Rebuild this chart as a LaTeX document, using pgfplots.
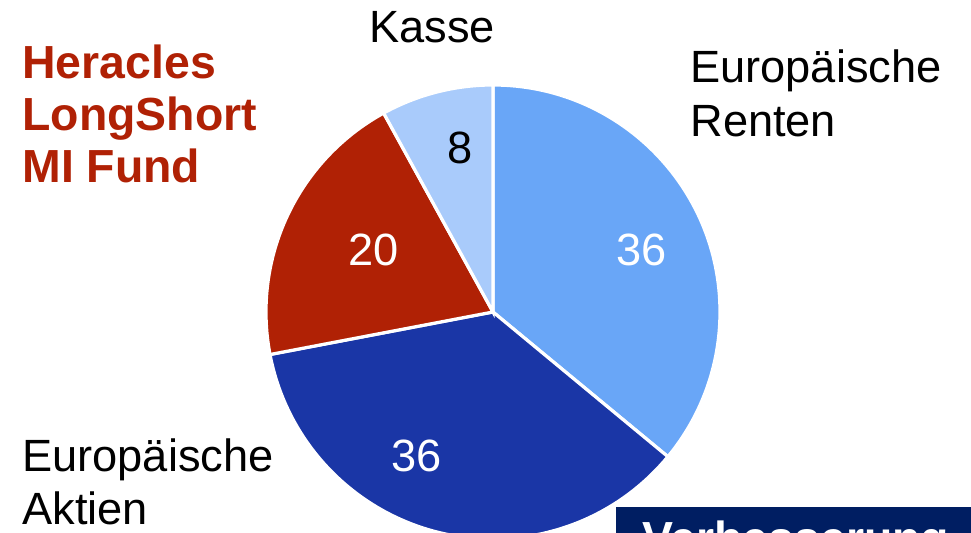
\documentclass[border=0pt]{standalone}
\usepackage{pgfplots}
\pgfplotsset{compat=1.18}
\usepackage{pgfplotstable}
\usepackage{fontspec}
\setmainfont{Liberation Sans}

\definecolor{renten}{HTML}{69A6F7}
\definecolor{aktien}{HTML}{1A36A6}
\definecolor{heracles}{HTML}{B02105}
\definecolor{kasse}{HTML}{A9CBFB}
\definecolor{navy}{HTML}{001E62}

% shares in percent, clockwise from the top
\pgfplotstableread{
label    value
Renten   36
Aktien   36
Heracles 20
Kasse    8
}\piedata

\pgfplotstablegetelem{0}{value}\of\piedata \let\va\pgfplotsretval
\pgfplotstablegetelem{1}{value}\of\piedata \let\vb\pgfplotsretval
\pgfplotstablegetelem{2}{value}\of\piedata \let\vc\pgfplotsretval
\pgfplotstablegetelem{3}{value}\of\piedata \let\vd\pgfplotsretval
\pgfmathsetmacro{\aO}{90}
\pgfmathsetmacro{\aA}{\aO-3.6*\va}
\pgfmathsetmacro{\aB}{\aA-3.6*\vb}
\pgfmathsetmacro{\aC}{\aB-3.6*\vc}
\pgfmathsetmacro{\aD}{\aC-3.6*\vd}

\newcommand{\lbl}{\fontsize{22.6}{26}\selectfont}
\newcommand{\ttl}{\fontsize{23.2}{26}\selectfont\bfseries}
\def\R{113.5pt}

\begin{document}
\begin{tikzpicture}
\begin{axis}[
    hide axis, scale only axis,
    width=485.5pt, height=266.5pt,
    xmin=0, xmax=971, ymin=0, ymax=533,
    clip=true
]
\coordinate (ll) at (axis cs:0,0);
\coordinate (ur) at (axis cs:971,533);

% wedges
\filldraw[fill=renten, draw=white, line width=1.6pt]
  (axis cs:493,221) -- ++(\aO:\R) arc[start angle=\aO, end angle=\aA, radius=\R] -- cycle;
\filldraw[fill=aktien, draw=white, line width=1.6pt]
  (axis cs:493,221) -- ++(\aA:\R) arc[start angle=\aA, end angle=\aB, radius=\R] -- cycle;
\filldraw[fill=heracles, draw=white, line width=1.6pt]
  (axis cs:493,221) -- ++(\aB:\R) arc[start angle=\aB, end angle=\aC, radius=\R] -- cycle;
\filldraw[fill=kasse, draw=white, line width=1.6pt]
  (axis cs:493,221) -- ++(\aC:\R) arc[start angle=\aC, end angle=\aD, radius=\R] -- cycle;

% values
\node[anchor=base, inner sep=0, text=white, font=\lbl] at (axis cs:642,267) {36};
\node[anchor=base, inner sep=0, text=white, font=\lbl] at (axis cs:417,61) {36};
\node[anchor=base, inner sep=0, text=white, font=\lbl] at (axis cs:374,267) {20};
\node[anchor=base, inner sep=0, text=black, font=\lbl] at (axis cs:460,369) {8};

% category labels
\node[anchor=base, inner sep=0, font=\lbl] at (axis cs:432,490) {Kasse};
\node[anchor=base west, inner sep=0, font=\lbl] at (axis cs:690,450) {Europäische};
\node[anchor=base west, inner sep=0, font=\lbl] at (axis cs:690,396) {Renten};
\node[anchor=base west, inner sep=0, font=\lbl] at (axis cs:22,61) {Europäische};
\node[anchor=base west, inner sep=0, font=\lbl] at (axis cs:22,8) {Aktien};

% title
\node[anchor=base west, inner sep=0, text=heracles, font=\ttl] at (axis cs:22,454) {Heracles};
\node[anchor=base west, inner sep=0, text=heracles, font=\ttl] at (axis cs:22,402) {LongShort};
\node[anchor=base west, inner sep=0, text=heracles, font=\ttl] at (axis cs:22,350) {MI Fund};

% cut-off box at the bottom right
\fill[navy] (axis cs:616,-40) rectangle (axis cs:980,26);
\node[anchor=base west, inner sep=0, text=white, font=\ttl] at (axis cs:642,-22) {Verbesserung};
\end{axis}
\pgfresetboundingbox
\useasboundingbox (ll) rectangle (ur);
\end{tikzpicture}
\end{document}
